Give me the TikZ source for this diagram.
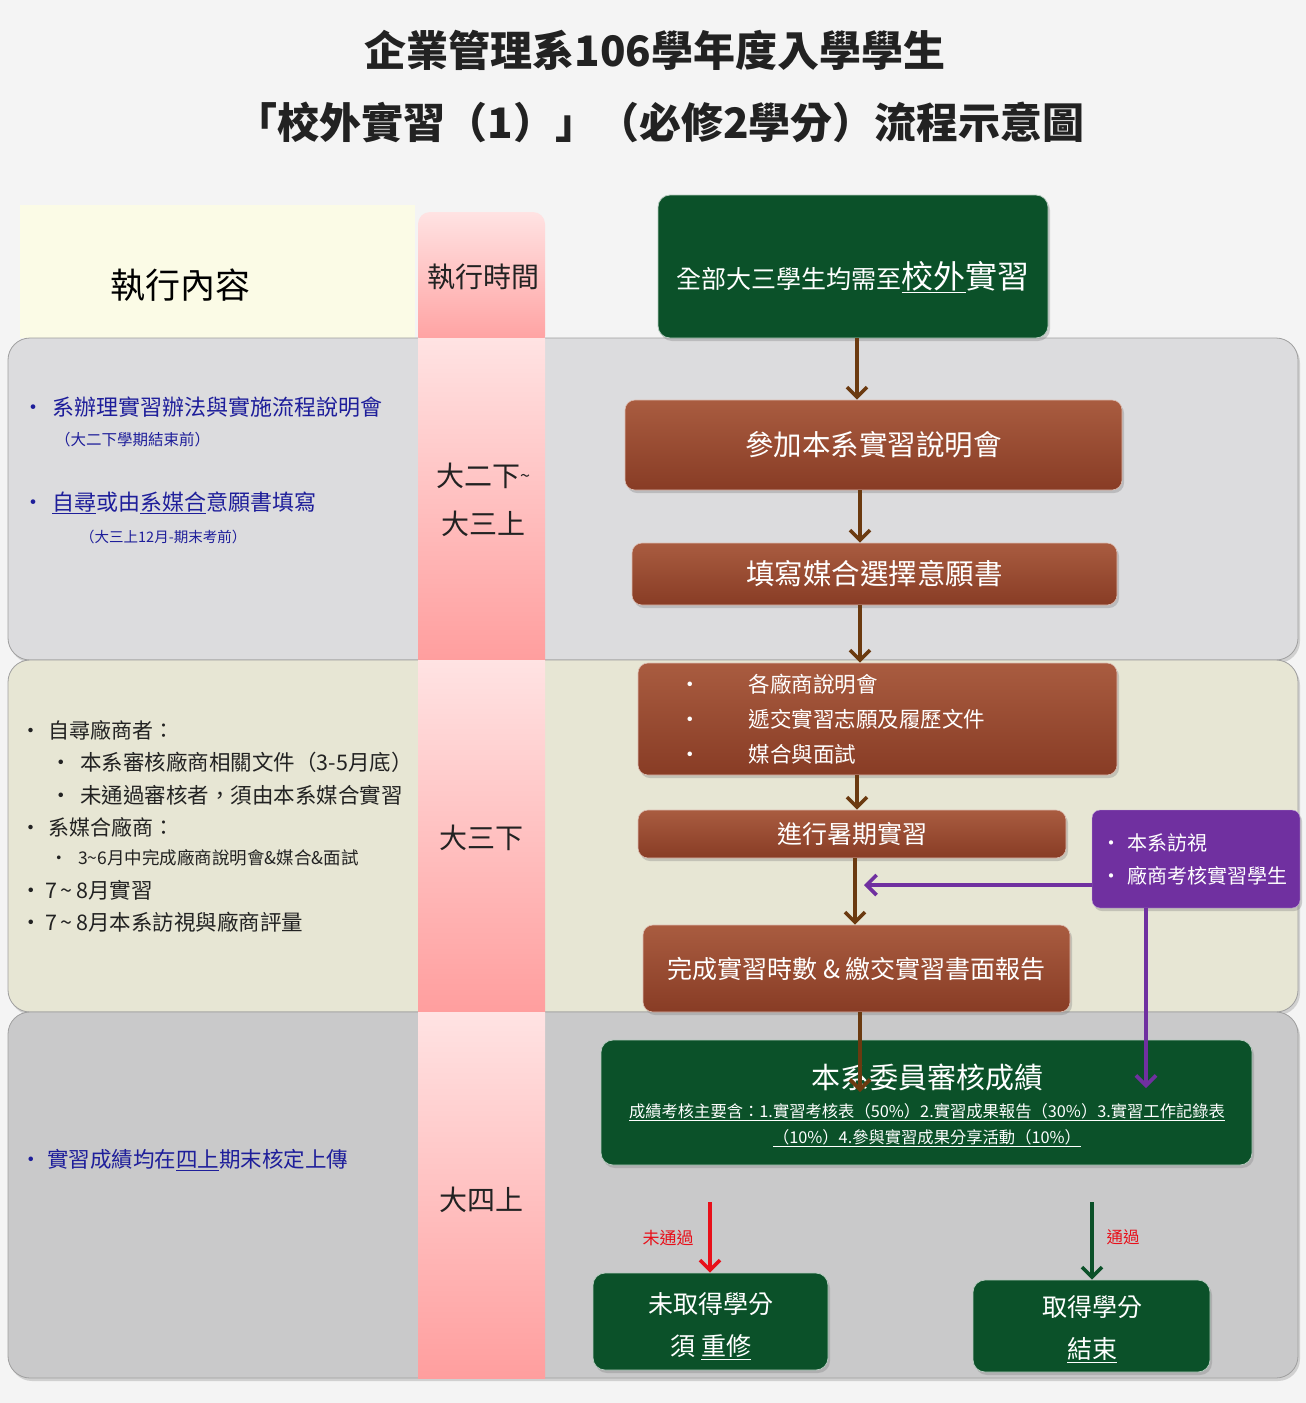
\documentclass[tikz,border=0pt]{standalone}
\usepackage{fontspec}
\setmainfont{Noto Sans CJK TC}
\usetikzlibrary{arrows.meta,shadows,calc}
\definecolor{dgreen}{HTML}{0B5129}
\definecolor{brownT}{HTML}{A95C40}
\definecolor{brownB}{HTML}{883C25}
\definecolor{arrowbrown}{HTML}{6B3A10}
\definecolor{purp}{HTML}{7030A0}
\definecolor{navy}{HTML}{1E1E9A}
\definecolor{darktxt}{HTML}{222222}
\definecolor{bandA}{HTML}{DCDCDE}
\definecolor{bandB}{HTML}{E7E6D4}
\definecolor{bandC}{HTML}{C9C9CA}
\definecolor{headY}{HTML}{FBFBE6}
\definecolor{pinkT}{HTML}{FFE3E3}
\definecolor{pinkB}{HTML}{FF9E9E}
\definecolor{bgc}{HTML}{F4F4F4}
\definecolor{redarr}{HTML}{E8101A}
\newcommand\fsz[2]{\fontsize{#1}{#2}\selectfont}
\begin{document}
\begin{tikzpicture}[x=1pt,y=-1pt,
  band/.style={draw=gray!75, line width=0.8pt, rounded corners=22pt,
    drop shadow={shadow xshift=2pt, shadow yshift=-3pt, opacity=0.3}},
  pinkcol/.style={top color=pinkT, bottom color=pinkB, draw=none},
  gbox/.style={rounded corners=12pt, fill=dgreen, text=white, draw=white!70!dgreen, line width=0.8pt,
    drop shadow={shadow xshift=2pt, shadow yshift=-3pt, opacity=0.35}, align=center},
  bbox/.style={rounded corners=10pt, top color=brownT, bottom color=brownB, text=white,
    draw=white!60!brownT, line width=0.6pt,
    drop shadow={shadow xshift=2pt, shadow yshift=-3pt, opacity=0.35}, align=center},
  pbox/.style={rounded corners=8pt, fill=purp, text=white, draw=white!60!purp,
    drop shadow={shadow xshift=2pt, shadow yshift=-3pt, opacity=0.35}},
  ltext/.style={anchor=west, inner sep=0pt, align=left},
  timetext/.style={inner sep=0pt, align=center, text=darktxt, font=\fsz{28}{48}},
  tip/.style={-{Straight Barb[length=10pt,width=20pt]}},
  flow/.style={draw=arrowbrown, line width=3.6pt, tip},
  purpflow/.style={draw=purp, line width=3.6pt, tip},
  redflow/.style={draw=redarr, line width=3.6pt, tip},
  greenflow/.style={draw=dgreen, line width=3.6pt, tip}
]
\useasboundingbox (0,0) rectangle (1306,1403);
\fill[bgc] (0,0) rectangle (1306,1403);

% title
\node[inner sep=0pt, text=darktxt, font=\fsz{42}{48}\bfseries] (t1) at (655,50) {企業管理系106學年度入學學生};
\node[inner sep=0pt, text=darktxt, font=\fsz{42}{48}\bfseries] (t2) at (660,122) {「校外實習（1）」（必修2學分）流程示意圖};

% header
\node[fill=headY, minimum width=395pt, minimum height=133pt, inner sep=0pt] (hbox) at (217.5,271.5) {};
\node[inner sep=0pt, text=black, font=\fsz{35}{40}] (hc) at (180,285) {執行內容};

% bands
\draw[band, fill=bandA] (8,338) rectangle (1298,660);
\draw[band, fill=bandB] (8,660) rectangle (1298,1012);
\draw[band, fill=bandC] (8,1012) rectangle (1298,1378);

% pink column
\node[pinkcol, rounded corners=12pt, minimum width=127pt, minimum height=136pt, inner sep=0pt] (ph) at (481.5,280) {};
\shade[pinkcol] (418,338) rectangle (545,660);
\shade[pinkcol] (418,660) rectangle (545,1012);
\shade[pinkcol] (418,1012) rectangle (545,1378);
\node[inner sep=0pt, text=darktxt, font=\fsz{28}{32}] (ht) at (483,277) {執行時間};

% time labels
\node[timetext] (tm1) at (483,500) {大二下\raisebox{4pt}{\fsz{18}{20}\textasciitilde}\\大三上};
\node[timetext] (tm2) at (481,838) {大三下};
\node[timetext] (tm3) at (481,1200) {大四上};

% left texts section 1
\node[ltext, text=navy, font=\fsz{22}{26}] (l1a) at (22,407) {\makebox[30pt][l]{•}系辦理實習辦法與實施流程說明會};
\node[ltext, text=navy, font=\fsz{15.5}{20}] (l1b) at (55,440) {（大二下學期結束前）};
\node[ltext, text=navy, font=\fsz{22}{26}] (l1c) at (22,503) {\makebox[30pt][l]{•}\underline{自尋}或由\underline{系媒合}意願書填寫};
\node[ltext, text=navy, font=\fsz{14.5}{18}] (l1d) at (80,537) {（大三上12月-期末考前）};

% left texts section 2
\node[ltext, text=darktxt, font=\fsz{21}{24}] (l2a) at (20,730) {\makebox[28pt][l]{•}自尋廠商者：};
\node[ltext, text=darktxt, font=\fsz{21.5}{24}] (l2b) at (50,762) {\makebox[30pt][l]{•}本系審核廠商相關文件（3-5月底）};
\node[ltext, text=darktxt, font=\fsz{21.5}{24}] (l2c) at (50,795) {\makebox[30pt][l]{•}未通過審核者，須由本系媒合實習};
\node[ltext, text=darktxt, font=\fsz{21}{24}] (l2d) at (20,827) {\makebox[28pt][l]{•}系媒合廠商：};
\node[ltext, text=darktxt, font=\fsz{17.5}{22}] (l2e) at (50,858) {\makebox[28pt][l]{•}3\textasciitilde 6月中完成廠商說明會\&媒合\&面試};
\node[ltext, text=darktxt, font=\fsz{21.5}{24}] (l2f) at (20,890) {\makebox[25pt][l]{•}7\,\textasciitilde\,8月實習};
\node[ltext, text=darktxt, font=\fsz{21.5}{24}] (l2g) at (20,922) {\makebox[25pt][l]{•}7\,\textasciitilde\,8月本系訪視與廠商評量};

% left text section 3
\node[ltext, text=navy, font=\fsz{21.5}{26}] (l3a) at (20,1160) {\makebox[27pt][l]{•}實習成績均在\underline{四上}期末核定上傳};

% flow boxes
\node[gbox, minimum width=390pt, minimum height=143pt, inner sep=0pt] (top) at (853,266.5) {};
\node[inner sep=0pt, text=white, font=\fsz{25}{30}] (toptext) at (853,277)
  {全部大三學生均需至{\fsz{32}{36}\underline{校外}實習}};
\node[bbox, minimum width=497pt, minimum height=90pt, inner sep=0pt, font=\fsz{28.5}{32}] (b1) at (873.5,445) {參加本系實習說明會};
\node[bbox, minimum width=485pt, minimum height=62pt, inner sep=0pt, font=\fsz{28.5}{32}] (b2) at (874.5,574) {填寫媒合選擇意願書};
\node[bbox, minimum width=479pt, minimum height=112pt, inner xsep=41pt, inner ysep=0pt, text width=397pt, align=left,
  font=\fsz{21.5}{35}] (b3) at (877.5,719)
  {\makebox[70pt][l]{•}各廠商說明會\\ \makebox[70pt][l]{•}遞交實習志願及履歷文件\\ \makebox[70pt][l]{•}媒合與面試};
\node[bbox, minimum width=428pt, minimum height=48pt, inner sep=0pt, font=\fsz{25}{30}] (b4) at (852,834) {進行暑期實習};
\node[pbox, minimum width=208pt, minimum height=98pt, inner xsep=9pt, inner ysep=0pt, text width=190pt, align=left,
  font=\fsz{20}{33}] (pv) at (1196,859)
  {\makebox[26pt][l]{•}本系訪視\\ \makebox[26pt][l]{•}廠商考核實習學生};
\node[bbox, minimum width=427pt, minimum height=87pt, inner sep=0pt, font=\fsz{25}{30}] (b5) at (856.5,968.5) {完成實習時數 \& 繳交實習書面報告};
\node[gbox, minimum width=651pt, minimum height=125pt, inner sep=0pt] (g2) at (926.5,1102.5) {};
\node[inner sep=0pt, text=white, font=\fsz{29}{34}] (g2title) at (927,1077) {本系委員審核成績};
\node[inner sep=0pt, text=white, align=center, font=\fsz{16.3}{26}] (g2sub) at (927,1125)
  {\underline{成績考核主要含：1.實習考核表（50\%）2.實習成果報告（30\%）3.實習工作記錄表}\\
   \underline{（10\%）4.參與實習成果分享活動（10\%）}};
\node[gbox, minimum width=235pt, minimum height=97pt, inner sep=0pt] (fail) at (710.5,1321.5) {};
\node[inner sep=0pt, text=white, align=center, font=\fsz{25}{42}] (failtext) at (711,1326)
  {未取得學分\\須 \underline{重修}};
\node[gbox, minimum width=237pt, minimum height=92pt, inner sep=0pt] (pass) at (1091.5,1326) {};
\node[inner sep=0pt, text=white, align=center, font=\fsz{25}{42}] (passtext) at (1092,1329)
  {取得學分\\\underline{結束}};

% helper coordinates
\coordinate (ax1) at (857,0);
\coordinate (ax2) at (860,0);
\coordinate (ax3) at (857,0);
\coordinate (ax4) at (855,0);
\coordinate (gtip) at (860,1092);
\coordinate (ptip) at (864,885);
\coordinate (pdown) at (1146,1088);
\coordinate (fstart) at (710,1202);
\coordinate (pstart) at (1092,1202);

% connectors
\draw[flow] (top.south -| ax1) -- (b1.north -| ax1);
\draw[flow] (b1.south -| ax2) -- (b2.north -| ax2);
\draw[flow] (b2.south -| ax2) -- (b3.north -| ax2);
\draw[flow] (b3.south -| ax3) -- (b4.north -| ax3);
\draw[flow] (b4.south -| ax4) -- (b5.north -| ax4);
\draw[purpflow] (pv.west |- ptip) -- (ptip);
\draw[purpflow] (pv.south -| pdown) -- (pdown);
\draw[flow] (b5.south -| gtip) -- (gtip);
\draw[redflow] (fstart) -- (fail.north -| fstart);
\draw[greenflow] (pstart) -- (pass.north -| pstart);

\node[inner sep=0pt, text=redarr, font=\fsz{17}{20}] (nf) at (668,1238) {未通過};
\node[inner sep=0pt, text=redarr, font=\fsz{16.5}{20}] (np) at (1123,1237) {通過};
\end{tikzpicture}
\end{document}
